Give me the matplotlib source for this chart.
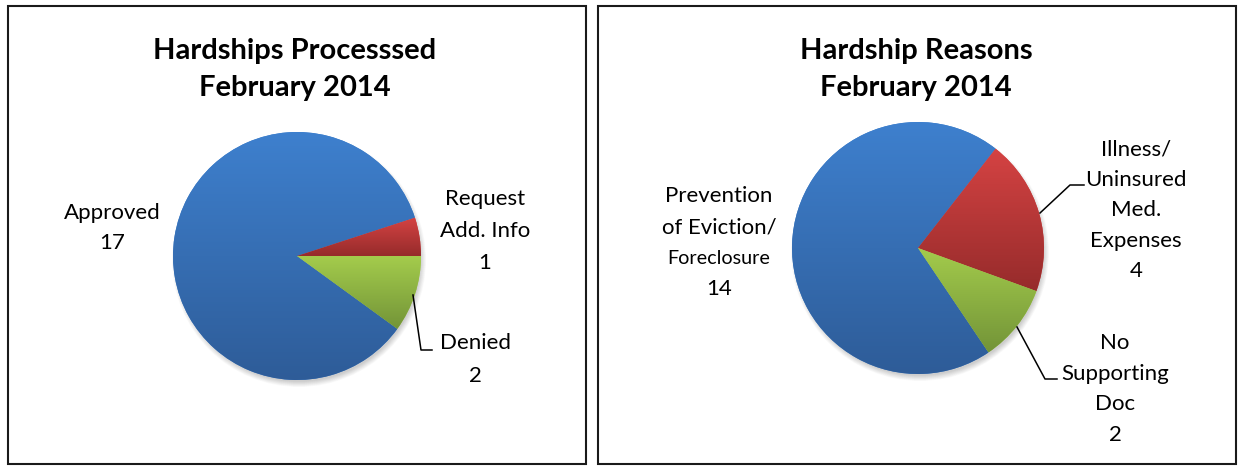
import numpy as np
import matplotlib
matplotlib.use("Agg")
import matplotlib.pyplot as plt
from matplotlib.patches import Rectangle, Circle
from matplotlib.colors import LinearSegmentedColormap

# ---- data ----
left_title = ["Hardships Processsed", "February 2014"]
left_categories = ["Approved", "Request\nAdd. Info", "Denied"]
left_values = [17, 1, 2]

right_title = ["Hardship Reasons", "February 2014"]
right_categories = ["Prevention\nof Eviction/\nForeclosure",
                    "Illness/\nUninsured\nMed.\nExpenses",
                    "No\nSupporting\nDoc"]
right_values = [14, 4, 2]

# (light top, dark bottom) gradient per slice
slice_colors = [("#3E80CE", "#2E5C98"), ("#D54343", "#962B2B"), ("#A4CC4C", "#739438")]

W, H = 1244, 466
FONT = "Lato"


def Y(y):
    return H - y


fig = plt.figure(figsize=(W / 100, H / 100), dpi=100)
ax = fig.add_axes([0, 0, 1, 1])


def draw_pie(values, cx, cy, r, start):
    # soft shadow
    for i in range(10):
        ax.add_patch(Circle((cx + 2, Y(cy) - 4), r + 3 - i * 0.6,
                            color="black", alpha=0.018, lw=0, zorder=0.5))
    wedges, _ = ax.pie(values, colors=[c[0] for c in slice_colors],
                       center=(cx, Y(cy)), radius=r, startangle=start,
                       counterclock=False, frame=True,
                       wedgeprops=dict(linewidth=0))
    for w, (top, bot) in zip(wedges, slice_colors):
        ext = w.get_path().get_extents()
        cmap = LinearSegmentedColormap.from_list("g", [bot, top])
        grad = np.linspace(0, 1, 256).reshape(-1, 1)
        im = ax.imshow(grad, extent=(ext.x0, ext.x1, ext.y0, ext.y1),
                       origin="lower", cmap=cmap, aspect="auto",
                       interpolation="bilinear", zorder=2)
        im.set_clip_path(w)


def draw_label(x, y0, lines, spacing=31, size=16, sizes=None):
    for i, line in enumerate(lines):
        s = sizes[i] if sizes and sizes[i] else size
        ax.text(x, Y(y0 + i * spacing), line, ha="center", va="center",
                fontsize=s, family=FONT, color="black", zorder=5)


def draw_title(x, lines):
    for i, line in enumerate(lines):
        ax.text(x, Y(51 + i * 37), line, ha="center", va="center",
                fontsize=21, fontweight="bold", family=FONT, zorder=5)


# panel borders
ax.add_patch(Rectangle((8, Y(464)), 578, 458, fill=False, ec="#1a1a1a", lw=1.5, zorder=6))
ax.add_patch(Rectangle((598, Y(464)), 638, 458, fill=False, ec="#1a1a1a", lw=1.5, zorder=6))

# ---- left chart ----
draw_title(295, left_title)
draw_pie(left_values, 297, 256, 124, -36)
lab = [c.split("\n") + [str(v)] for c, v in zip(left_categories, left_values)]
draw_label(112, 213, lab[0], spacing=30)
draw_label(485, 199, lab[1], spacing=32)
draw_label(475, 343, lab[2], spacing=33)
ax.plot([413, 421, 432], [Y(295), Y(350), Y(350)], color="black", lw=1.1, zorder=4)

# ---- right chart ----
draw_title(916, right_title)
draw_pie(right_values, 918, 248, 126, -56)
lab = [c.split("\n") + [str(v)] for c, v in zip(right_categories, right_values)]
draw_label(719, 196, lab[0], spacing=31, sizes=[None, None, 14.2, None])
draw_label(1136, 150, lab[1], spacing=30.2)
draw_label(1115, 343, lab[2], spacing=30.7)
ax.plot([1040, 1070, 1084], [Y(213), Y(185), Y(185)], color="black", lw=1.1, zorder=4)
ax.plot([1017, 1045, 1057], [Y(327), Y(379), Y(379)], color="black", lw=1.1, zorder=4)

ax.set_xlim(0, W)
ax.set_ylim(0, H)
ax.set_aspect("auto")
ax.axis("off")
fig.savefig("out.png", dpi=100, facecolor="white")
